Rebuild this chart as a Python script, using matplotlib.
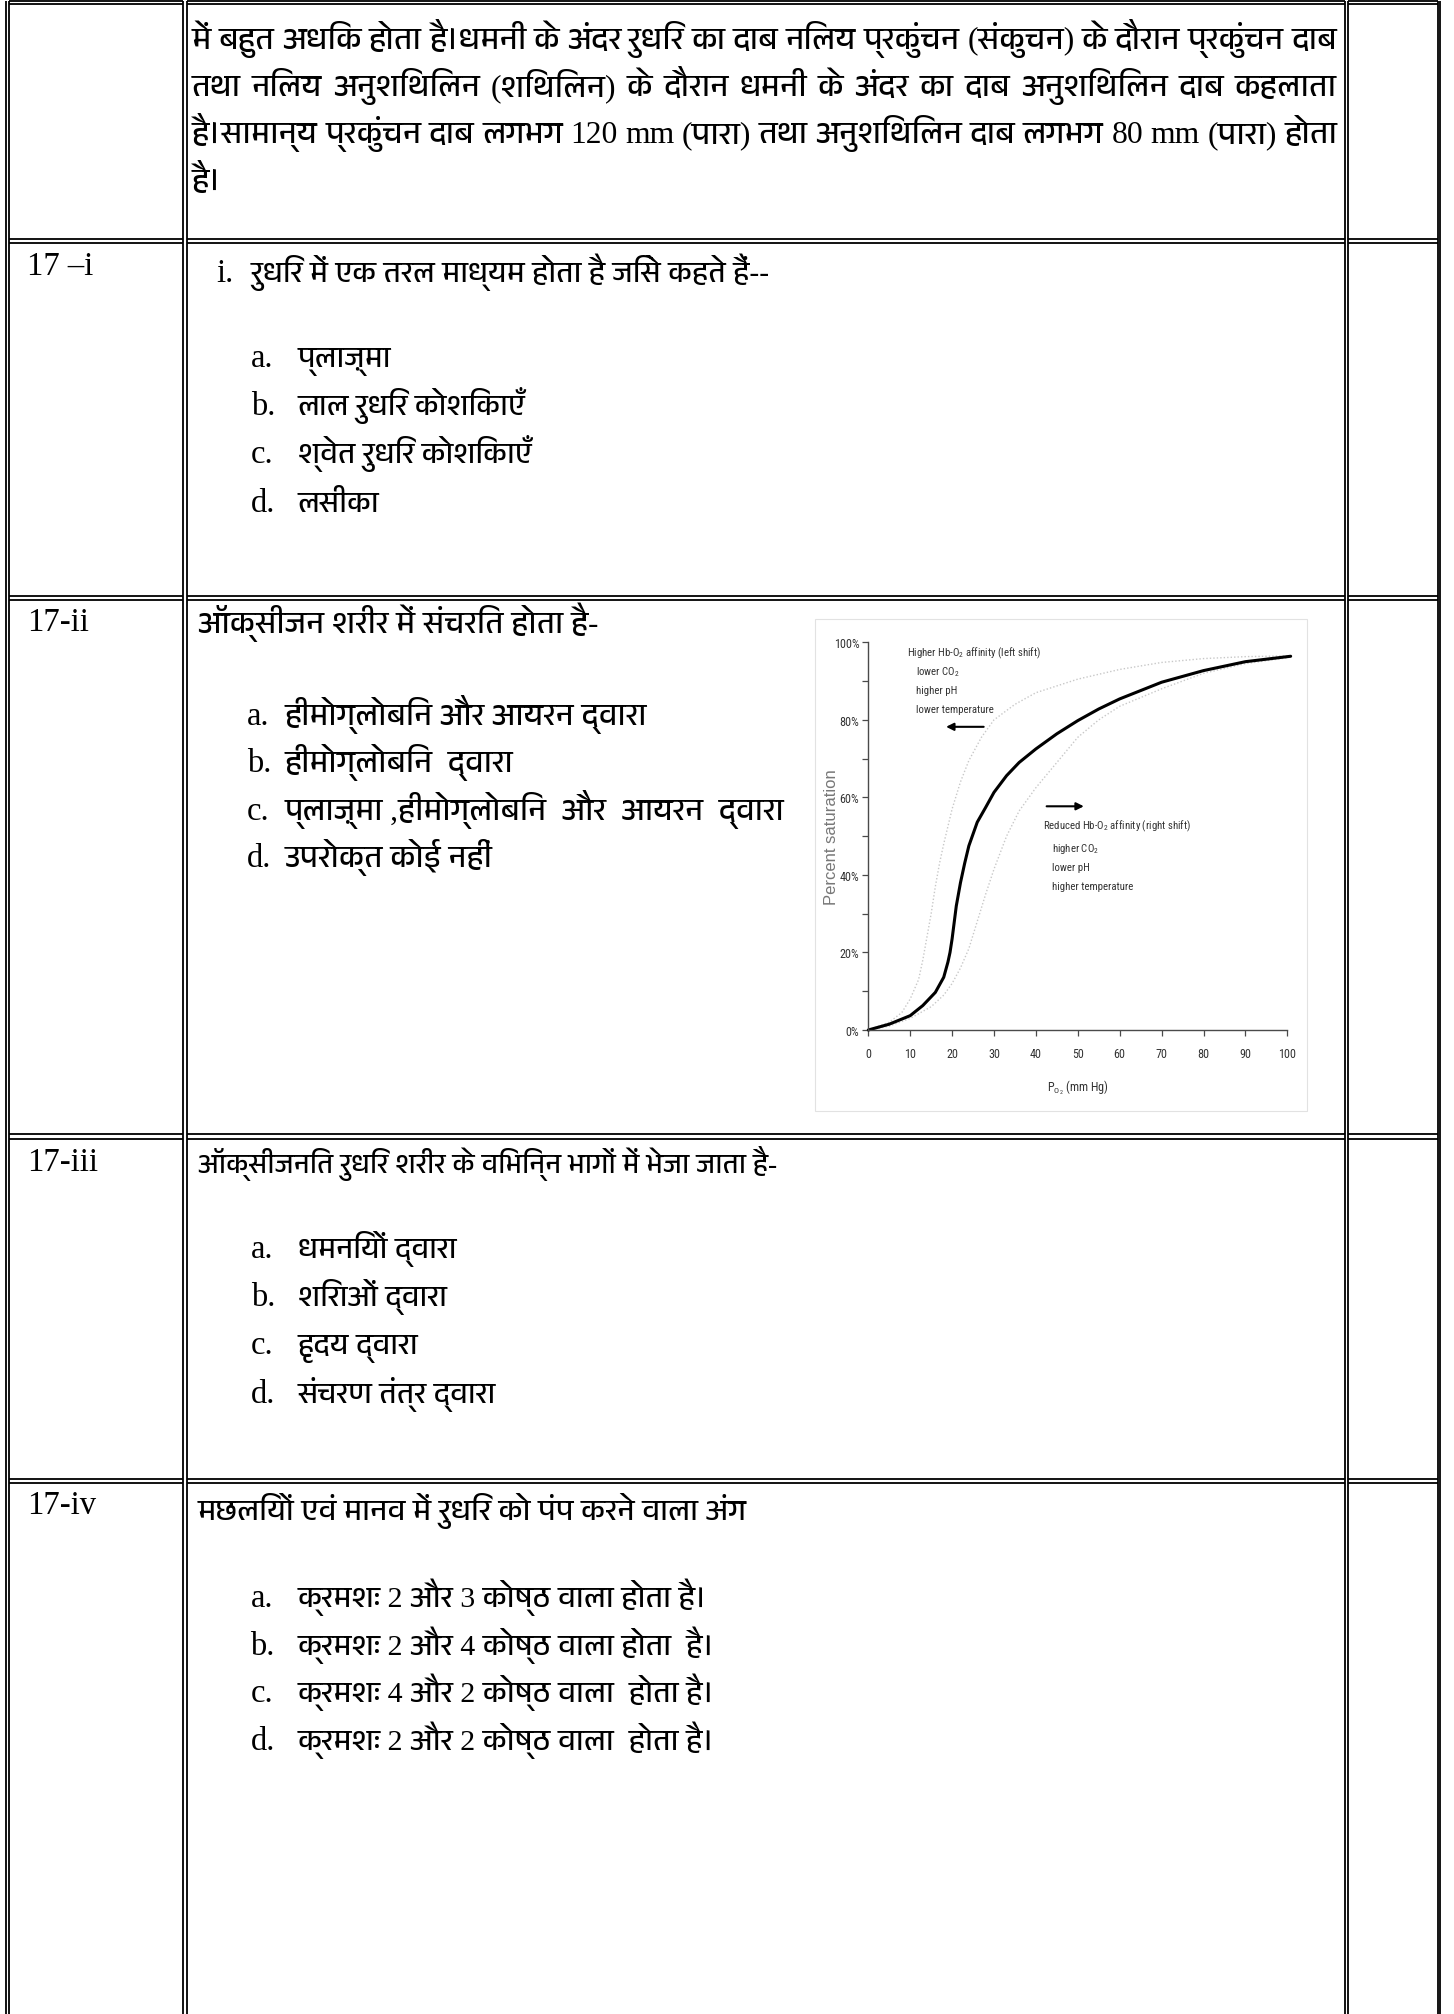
import logging
import warnings
import matplotlib
matplotlib.use("Agg")
import matplotlib.pyplot as plt
from matplotlib import font_manager
from matplotlib.font_manager import FontProperties
from matplotlib.ft2font import FT2Font
from matplotlib.patches import Rectangle

warnings.filterwarnings("ignore")
logging.getLogger("matplotlib.font_manager").setLevel(logging.ERROR)

# ---------------- chart data ----------------
po2_main = [0, 5, 10, 13, 16, 18, 19, 19.5, 20, 21, 22, 23, 24, 26, 28, 30, 33, 36, 40, 45, 50, 55, 60, 70, 80, 90, 100.8]
sat_main = [0, 1.5, 3.7, 6.3, 9.7, 13.6, 17.5, 20, 23.5, 32, 38, 43, 47.5, 53.6, 57.4, 61.3, 65.6, 69, 72.5, 76.4, 79.8, 82.8, 85.4, 89.7, 92.7, 95, 96.4]

po2_left = [0, 5, 8, 10, 12, 13, 14, 15, 16, 17, 18, 20, 22, 24, 27, 30, 35, 40, 50, 60, 70, 80, 90, 100]
sat_left = [0, 2, 4.5, 8, 13, 18, 24, 30, 37, 43, 48, 57, 64, 69.5, 75.5, 80, 84, 87, 90.5, 93, 94.8, 95.8, 96.3, 96.5]

po2_right = [0, 5, 10, 15, 18, 20, 22, 24, 26, 28, 30, 33, 36, 40, 45, 50, 55, 60, 70, 80, 90, 100]
sat_right = [0, 1, 3, 6, 9, 12, 16, 21, 28, 35, 41.5, 50, 56.5, 62.5, 69, 75.5, 80, 83.5, 88, 92, 94.5, 96]

x_ticks = [0, 10, 20, 30, 40, 50, 60, 70, 80, 90, 100]
y_ticks = [0, 20, 40, 60, 80, 100]
y_minor = [10, 30, 50, 70, 90]
y_ticklabels = ["0%", "20%", "40%", "60%", "80%", "100%"]

left_note = ["Higher Hb-O$_2$ affinity (left shift)", "lower CO$_2$", "higher pH", "lower temperature"]
right_note = ["Reduced Hb-O$_2$ affinity (right shift)", "higher CO$_2$", "lower pH", "higher temperature"]
left_note_y = [97.4, 92.7, 87.8, 82.8]
right_note_y = [52.7, 46.9, 42.0, 37.2]
arrow_left = (28.2, 17.9, 78.2)
arrow_right = (41.9, 52.1, 57.7)

# ---------------- page text ----------------
row1_lines = [
    "में बहुत अधिक होता है।धमनी के अंदर रुधिर का दाब निलय प्रकुंचन (संकुचन) के दौरान प्रकुंचन दाब",
    "तथा निलय अनुशिथिलन (शिथिलन) के दौरान धमनी के अंदर का दाब अनुशिथिलन दाब कहलाता",
    "है।सामान्य प्रकुंचन दाब लगभग 120 mm (पारा) तथा अनुशिथिलन दाब  लगभग 80 mm (पारा) होता",
    "है।",
]
row_labels = ["17 –i", "17-ii", "17-iii", "17-iv"]
letters = ["a.", "b.", "c.", "d."]
q17i = "रुधिर में एक तरल माध्यम होता है जिसे कहते हैं--"
opts17i = ["प्लाज़्मा", "लाल रुधिर कोशिकाएँ", "श्वेत रुधिर कोशिकाएँ", "लसीका"]
q17ii = "ऑक्सीजन शरीर में संचरित होता है-"
opts17ii = ["हीमोग्लोबिन और आयरन द्वारा", "हीमोग्लोबिन  द्वारा", "प्लाज़्मा ,हीमोग्लोबिन  और  आयरन  द्वारा", "उपरोक्त कोई नहीं"]
q17iii = "ऑक्सीजनित रुधिर शरीर के विभिन्न भागों में भेजा जाता है-"
opts17iii = ["धमनियों द्वारा", "शिराओं द्वारा", "हृदय द्वारा", "संचरण तंत्र द्वारा"]
q17iv = "मछलियों एवं मानव में रुधिर को पंप करने वाला अंग"
opts17iv = ["क्रमशः 2 और 3 कोष्ठ वाला होता है।", "क्रमशः 2 और 4 कोष्ठ वाला होता  है।",
            "क्रमशः 4 और 2 कोष्ठ वाला  होता है।", "क्रमशः 2 और 2 कोष्ठ वाला  होता है।"]

# ---------------- fonts ----------------
ttf = font_manager.fontManager.ttflist
names = {f.name for f in ttf}
deva_candidates = []
for f in ttf:
    if "CJK" in f.name:
        continue
    try:
        if 0x0915 in FT2Font(f.fname).get_charmap():
            deva_candidates.append(f.name)
    except Exception:
        pass
deva_font = None
for c in deva_candidates:
    if "Devanagari" in c or "Lohit" in c:
        deva_font = c
        break
if deva_font is None and deva_candidates:
    deva_font = deva_candidates[0]

serif = "Liberation Serif" if "Liberation Serif" in names else "DejaVu Serif"
plain = "Liberation Sans" if "Liberation Sans" in names else "DejaVu Sans"
deva_family = [serif] + ([deva_font] if deva_font else []) + ["DejaVu Sans"]


def regular(f):
    return f.style == "normal" and str(f.weight).lower() in ("400", "normal", "regular", "book")


# narrow sans for the chart (the picture uses an Arial Narrow look)
cond_path = None
for pname in ["Liberation Sans Narrow", "Roboto Condensed", "Open Sans Condensed", "DejaVu Sans"]:
    for f in ttf:
        if f.name == pname and regular(f) and (pname != "DejaVu Sans" or f.stretch == "condensed"):
            cond_path = f.fname
            break
    if cond_path:
        break


def narrow_fp(size):
    if cond_path:
        return FontProperties(fname=cond_path, size=size)
    return FontProperties(family=plain, size=size)


plt.rcParams["mathtext.default"] = "regular"

W, H = 1454, 2015
fig = plt.figure(figsize=(W / 100, H / 100), dpi=100)
fig.patch.set_facecolor("white")
page = fig.add_axes([0, 0, 1, 1])
page.set_xlim(0, W)
page.set_ylim(H, 0)
page.axis("off")
renderer = fig.canvas.get_renderer()


def measure(s, **kw):
    t = page.text(0, 0, s, **kw)
    w = t.get_window_extent(renderer).width
    t.remove()
    return w


def fit(sample, target, base=22, lo=16, hi=27):
    w = measure(sample, fontsize=base, family=deva_family)
    if w <= 0:
        return base
    return max(lo, min(hi, base * target / w))


def fit_narrow(sample, target, base=9, lo=5, hi=12):
    w = measure(sample, fontproperties=narrow_fp(base))
    if w <= 0:
        return base
    return max(lo, min(hi, base * target / w))


# ---------------- table rules (double lines) ----------------
v_pairs = [(5.7, 9.3), (182.7, 186.7), (1345.0, 1348.3), (1437.7, 1440.3)]
h_pairs = [(1.5, 5.0), (239.5, 243.5), (597.0, 601.0), (1135.0, 1139.5), (1479.5, 1483.5)]
for a, b in v_pairs:
    page.vlines([a, b], 1.5, H, color="black", lw=1.3)
cells = [(v_pairs[i][1], v_pairs[i + 1][0]) for i in range(3)]
for a, b in h_pairs:
    for x0, x1 in cells:
        page.hlines([a, b], x0, x1, color="black", lw=1.3)

# ---------------- row 1: justified paragraph ----------------
x0, x1 = 192, 1337
base = 22
widest = max(sum(measure(w, fontsize=base, family=deva_family) for w in ln.split()) + 7 * (len(ln.split()) - 1)
             for ln in row1_lines[:3])
s_row1 = max(16, min(27, base * (x1 - x0) / widest))
row1_y = [49, 96, 143, 190]
for i, ln in enumerate(row1_lines):
    words = ln.split()
    if i == len(row1_lines) - 1 or len(words) < 2:
        page.text(x0, row1_y[i], ln, fontsize=s_row1, family=deva_family, va="baseline")
        continue
    widths = [measure(w, fontsize=s_row1, family=deva_family) for w in words]
    gap = (x1 - x0 - sum(widths)) / (len(words) - 1)
    x = x0
    for w, wd in zip(words, widths):
        page.text(x, row1_y[i], w, fontsize=s_row1, family=deva_family, va="baseline")
        x += wd + gap

# ---------------- rows 17-i .. 17-iv ----------------
label_y = [275, 631, 1171, 1514]
for lab, y in zip(row_labels, label_y):
    page.text(27, y, lab, fontsize=23.5, family=serif, va="baseline")

s_i = fit(opts17i[1], 229)
page.text(216.7, 282, "i.", fontsize=23.5, family=serif, va="baseline")
page.text(251.7, 282, q17i, fontsize=s_i, family=deva_family, va="baseline")
for k, (lt, op) in enumerate(zip(letters, opts17i)):
    y = 367 + 48.2 * k
    page.text(250.7, y, lt, fontsize=23.5, family=serif, va="baseline")
    page.text(298, y, op, fontsize=s_i, family=deva_family, va="baseline")

s_ii = fit(opts17ii[2], 500)
page.text(198, 633, q17ii, fontsize=s_ii, family=deva_family, va="baseline")
for k, (lt, op) in enumerate(zip(letters, opts17ii)):
    y = 725 + 47.3 * k
    page.text(247, y, lt, fontsize=23.5, family=serif, va="baseline")
    page.text(285, y, op, fontsize=s_ii, family=deva_family, va="baseline")

s_iii = fit(q17iii, 580)
page.text(198, 1173, q17iii, fontsize=s_iii, family=deva_family, va="baseline")
for k, (lt, op) in enumerate(zip(letters, opts17iii)):
    y = 1258 + 48.2 * k
    page.text(250.7, y, lt, fontsize=23.5, family=serif, va="baseline")
    page.text(298, y, op, fontsize=s_i, family=deva_family, va="baseline")

s_iv = fit(opts17iv[0], 411)
page.text(198, 1520, q17iv, fontsize=s_iv, family=deva_family, va="baseline")
for k, (lt, op) in enumerate(zip(letters, opts17iv)):
    y = 1607 + 47.7 * k
    page.text(250.5, y, lt, fontsize=23.5, family=serif, va="baseline")
    page.text(298, y, op, fontsize=s_iv, family=deva_family, va="baseline")

# ---------------- embedded oxygen dissociation chart ----------------
page.add_patch(Rectangle((815, 620), 492, 492, fill=False, ec="#e2e2e2", lw=0.8))

ax_l, ax_r, ax_t, ax_b = 868.3, 1287.3, 643.3, 1031.0
ax = fig.add_axes([ax_l / W, 1 - ax_b / H, (ax_r - ax_l) / W, (ax_b - ax_t) / H])
ax.patch.set_alpha(0)
ax.set_xlim(0, 100)
ax.set_ylim(0, 100)

ax.plot(po2_left, sat_left, color="#c8c8c8", lw=1.0, ls=(0, (1, 1.5)), clip_on=False)
ax.plot(po2_right, sat_right, color="#c8c8c8", lw=1.0, ls=(0, (1, 1.5)), clip_on=False)
ax.plot(po2_main, sat_main, color="black", lw=2.2, clip_on=False, solid_capstyle="round")

for s in ["top", "right"]:
    ax.spines[s].set_visible(False)
for s in ["left", "bottom"]:
    ax.spines[s].set_color("#4a4a4a")
    ax.spines[s].set_linewidth(1.0)

grow = 1.12
tick_size = fit_narrow("100%", 23, base=8, hi=10) * grow
ax.set_xticks(x_ticks)
ax.set_xticklabels([str(v) for v in x_ticks], fontproperties=narrow_fp(tick_size), color="#333333")
ax.set_yticks(y_ticks)
ax.set_yticks(y_minor, minor=True)
ax.set_yticklabels(y_ticklabels, fontproperties=narrow_fp(tick_size), color="#333333")
ax.tick_params(axis="y", which="both", direction="out", length=4.5, width=0.9, color="#4a4a4a", pad=2)
ax.tick_params(axis="x", which="both", direction="out", length=4, width=0.9, color="#4a4a4a", pad=8)

xl_size = fit_narrow("P$_{O_2}$ (mm Hg)", 55, base=9) * grow
ax.text(50, -14.7, "P$_{O_2}$ (mm Hg)", ha="center", va="center", fontproperties=narrow_fp(xl_size),
        color="#333333", clip_on=False)
yl_size = 9.5 * 140 / measure("Percent saturation", family=plain, fontsize=9.5)
yl_size = max(8, min(12, yl_size))
ax.text(-8.7, 50, "Percent saturation", rotation=90, ha="center", va="center", family=plain, fontsize=yl_size,
        color="#777777", clip_on=False)

note_size = fit_narrow(left_note[0], 120, base=9) * grow
for i, (t, y) in enumerate(zip(left_note, left_note_y)):
    ax.text(9.15 if i == 0 else 11.5, y, t, ha="left", va="center", fontproperties=narrow_fp(note_size),
            color="#333333")
for i, (t, y) in enumerate(zip(right_note, right_note_y)):
    ax.text(41.6 if i == 0 else 43.9, y, t, ha="left", va="center", fontproperties=narrow_fp(note_size),
            color="#333333")

ax.annotate("", xy=(arrow_left[1], arrow_left[2]), xytext=(arrow_left[0], arrow_left[2]),
            arrowprops=dict(arrowstyle="-|>", color="black", lw=1.5, mutation_scale=11))
ax.annotate("", xy=(arrow_right[1], arrow_right[2]), xytext=(arrow_right[0], arrow_right[2]),
            arrowprops=dict(arrowstyle="-|>", color="black", lw=1.5, mutation_scale=11))

fig.savefig("out.png", dpi=100, facecolor="white")
